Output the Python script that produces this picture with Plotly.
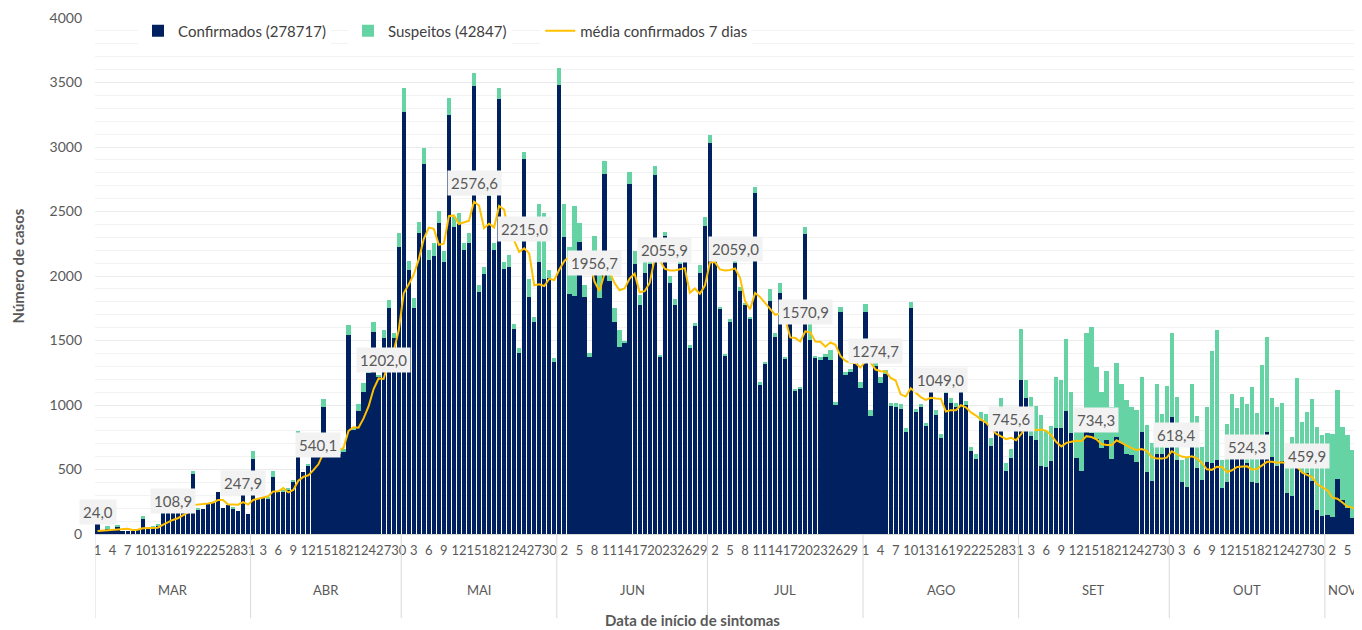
import plotly.graph_objects as go

# months shown on the category axis and how many days each one has in the series
meses = ["MAR", "ABR", "MAI", "JUN", "JUL", "AGO", "SET", "OUT", "NOV"]
dias_mes = [31, 30, 31, 30, 31, 31, 30, 31, 7]

confirmados = [
    # mar
    88, 26, 41, 31, 52, 26, 20, 26, 36, 116, 36, 49, 62, 170, 180, 175, 185, 190, 200, 467,
    190, 190, 232, 238, 326, 199, 222, 194, 178, 320, 155,
    # abr
    579, 269, 277, 269, 444, 328, 328, 341, 405, 775, 480, 527, 612, 612, 982, 599, 605, 620,
    638, 1540, 811, 956, 1103, 1250, 1568, 1214, 1517, 1749, 1517, 2227,
    # mai
    3274, 2046, 1754, 2335, 2868, 2124, 2157, 2408, 2106, 3248, 2377, 2403, 2201, 2253, 3473,
    1873, 2015, 2620, 2201, 3369, 2052, 2072, 1589, 1400, 2910, 1835, 1641, 2106, 1974, 1982, 1336,
    # jun
    3481, 2300, 1860, 1847, 2261, 1840, 1375, 2180, 1827, 2791, 1961, 1641, 1452, 1478, 2713,
    2093, 1775, 2021, 2093, 2783, 1375, 2310, 1943, 1775, 2093, 2150, 1439, 1612, 2021, 2388,
    # jul
    3034, 2111, 1750, 1380, 1640, 2098, 1884, 1775, 1664, 2641, 1153, 1315, 1809, 1530, 1866,
    1357, 1640, 1116, 1129, 2326, 1504, 1367, 1349, 1375, 1349, 1000, 1723, 1233, 1253, 1341, 1129,
    # ago
    1718, 917, 1302, 1173, 1238, 995, 987, 969, 793, 1749, 948, 987, 840, 1109, 925, 747, 1095,
    1018, 982, 1111, 1000, 643, 579, 876, 858, 685, 806, 852, 491, 587, 811,
    # set
    1194, 1057, 762, 729, 527, 520, 568, 824, 824, 953, 785, 587, 491, 845, 780, 733, 664, 728,
    582, 754, 703, 620, 612, 555, 788, 483, 413, 620, 620, 664,
    # out
    904, 574, 406, 367, 677, 509, 419, 555, 548, 574, 354, 406, 600, 600, 579, 548, 406, 393,
    600, 793, 600, 530, 568, 315, 297, 535, 478, 470, 413, 186, 140,
    # nov
    147, 135, 424, 264, 199, 124, 31,
]

suspeitos = [
    # mar
    0, 0, 21, 0, 18, 0, 0, 0, 0, 26, 0, 13, 13, 15, 0, 0, 0, 0, 0, 21, 15, 0, 0, 0, 0, 0, 0, 10,
    0, 0, 0,
    # abr
    64, 0, 0, 16, 44, 0, 12, 17, 15, 26, 0, 18, 0, 0, 62, 0, 0, 45, 22, 83, 9, 53, 65, 15, 78,
    18, 65, 65, 44, 103,
    # mai
    181, 73, 77, 80, 121, 77, 96, 93, 85, 129, 83, 88, 57, 78, 98, 55, 57, 20, 52, 91, 54, 90,
    41, 39, 51, 139, 44, 450, 517, 64, 26,
    # jun
    129, 256, 362, 693, 147, 88, 31, 130, 223, 103, 72, 108, 129, 22, 96, 101, 78, 98, 31, 70,
    13, 34, 60, 47, 31, 140, 26, 26, 65, 72,
    # jul
    59, 39, 12, 15, 25, 31, 34, 18, 21, 46, 23, 21, 90, 25, 83, 10, 20, 11, 13, 57, 129, 13, 26,
    18, 77, 20, 34, 20, 28, 0, 52,
    # ago
    65, 44, 34, 41, 33, 23, 31, 39, 26, 47, 21, 21, 18, 11, 39, 28, 21, 33, 31, 0, 31, 34, 39,
    66, 70, 62, 39, 200, 57, 72, 49,
    # set
    393, 137, 297, 263, 396, 280, 269, 390, 370, 556, 318, 283, 310, 711, 822, 564, 439, 538,
    405, 574, 459, 419, 375, 406, 426, 362, 290, 542, 311, 483,
    # out
    652, 490, 168, 233, 485, 406, 258, 432, 873, 1007, 220, 447, 485, 374, 485, 460, 733, 542,
    710, 737, 457, 452, 450, 336, 452, 671, 392, 478, 633, 641, 627,
    # nov
    638, 640, 692, 568, 568, 527, 233,
]

media_7d = [
    # mar
    24.0, 27.0, 32.0, 35.0, 40.0, 40.0, 40.6, 31.7, 33.1, 43.9, 44.6, 44.1, 49.3, 70.7, 92.7,
    108.9, 122.4, 144.4, 166.0, 223.9, 226.7, 228.1, 236.3, 243.9, 263.3, 263.1, 228.1, 228.7,
    227.0, 247.9, 227.7,
    # abr
    263.9, 273.9, 281.7, 292.4, 330.4, 331.6, 356.3, 322.3, 341.7, 412.9, 443.0, 454.9, 495.4,
    540.1, 627.6, 655.3, 631.0, 651.0, 666.9, 799.4, 827.9, 824.1, 896.1, 988.3, 1123.7, 1206.0,
    1202.0, 1336.7, 1416.9, 1577.4,
    # mai
    1866.6, 1934.9, 2012.0, 2128.9, 2288.7, 2375.4, 2365.4, 2241.7, 2250.3, 2463.7, 2469.7,
    2403.3, 2414.3, 2428.0, 2576.6, 2546.9, 2370.7, 2405.4, 2376.6, 2543.4, 2514.7, 2314.6,
    2274.0, 2186.1, 2215.0, 2175.3, 1928.4, 1936.1, 1922.1, 1978.3, 1969.1,
    # jun
    2050.7, 2117.1, 2148.4, 2111.4, 2152.4, 2132.1, 2137.7, 1956.7, 1884.3, 2017.3, 2033.6,
    1945.0, 1889.6, 1904.3, 1980.4, 2018.4, 1873.3, 1881.9, 1946.4, 2136.6, 2121.9, 2055.9,
    2042.9, 2042.9, 2053.1, 2061.3, 1869.3, 1903.1, 1861.9, 1925.4,
    # jul
    2105.3, 2107.9, 2050.7, 2042.3, 2046.3, 2059.0, 1985.3, 1805.4, 1741.6, 1868.9, 1836.4,
    1790.0, 1748.7, 1698.1, 1711.1, 1667.3, 1524.3, 1519.0, 1492.4, 1570.9, 1562.6, 1491.3,
    1490.1, 1452.3, 1485.6, 1467.1, 1381.0, 1342.3, 1326.0, 1324.9, 1289.7,
    # ago
    1342.4, 1330.6, 1274.7, 1261.9, 1259.7, 1210.3, 1190.0, 1083.0, 1065.3, 1129.1, 1097.0,
    1061.1, 1039.0, 1056.4, 1050.1, 1049.0, 950.1, 960.1, 959.4, 998.1, 982.6, 942.3, 918.3,
    887.0, 864.1, 821.7, 778.1, 757.0, 735.3, 745.6, 727.1,
    # set
    775.1, 828.3, 822.0, 804.4, 809.6, 800.0, 765.3, 712.4, 679.1, 706.4, 714.4, 723.0, 718.9,
    758.4, 752.1, 734.3, 697.9, 689.7, 689.0, 726.6, 706.3, 683.4, 666.1, 650.6, 659.1, 645.0,
    596.3, 584.4, 584.4, 591.9,
    # out
    641.7, 618.4, 600.1, 593.6, 601.7, 585.9, 550.9, 501.0, 497.3, 521.3, 519.4, 480.7, 493.7,
    519.6, 523.0, 524.3, 499.0, 504.6, 532.3, 559.9, 559.9, 552.9, 555.7, 542.7, 529.0, 519.7,
    474.7, 459.9, 439.4, 384.9, 359.9,
    # nov
    338.4, 281.3, 273.6, 244.1, 213.6, 204.7, 189.1,
]

# days where the chart shows a value label on the average line
rotulos = [("MAR", 1), ("MAR", 16), ("MAR", 30), ("ABR", 14), ("ABR", 27), ("MAI", 15),
           ("MAI", 25), ("JUN", 8), ("JUN", 22), ("JUL", 6), ("JUL", 20), ("AGO", 3),
           ("AGO", 16), ("AGO", 30), ("SET", 16), ("OUT", 2), ("OUT", 16), ("OUT", 28)]

nomes_legenda = ["Confirmados (278717)", "Suspeitos (42847)", "média confirmados 7 dias"]

NAVY = "#002060"
VERDE = "#66D3A5"
AMARELO = "#FFC000"
CINZA = "#595959"
FONTE = "Lato, 'Liberation Sans', sans-serif"

# category positions
x = list(range(len(confirmados)))
dias = [d for n in dias_mes for d in range(1, n + 1)]
inicio = [sum(dias_mes[:k]) for k in range(len(dias_mes))]
inicio_mes = dict(zip(meses, inicio))

fig = go.Figure()

fig.add_trace(go.Bar(x=x, y=confirmados, name=nomes_legenda[0], legend="legend",
                     marker=dict(color=NAVY, line=dict(width=0))))
fig.add_trace(go.Bar(x=x, y=suspeitos, name=nomes_legenda[1], legend="legend2",
                     marker=dict(color=VERDE, line=dict(width=0))))
fig.add_trace(go.Scatter(x=x, y=media_7d, mode="lines", name=nomes_legenda[2], legend="legend3",
                         line=dict(color=AMARELO, width=2)))

anots = []
for mes, dia in rotulos:
    i = inicio_mes[mes] + dia - 1
    anots.append(dict(x=i, y=media_7d[i], xref="x", yref="y",
                      text=f"{media_7d[i]:.1f}".replace(".", ","),
                      showarrow=False, yanchor="bottom", yshift=6,
                      bgcolor="#F2F2F2", borderpad=3,
                      font=dict(size=15, color=CINZA, family=FONTE)))

# month names under the day labels
for k, mes in enumerate(meses):
    meio = inicio[k] + (dias_mes[k] - 1) / 2
    anots.append(dict(x=meio, y=-0.108, xref="x", yref="paper", text=mes, showarrow=False,
                      yanchor="middle", font=dict(size=13, color=CINZA, family=FONTE)))

anots.append(dict(x=0.4727, y=-0.166, xref="paper", yref="paper", text="<b>Data de início de sintomas</b>",
                  showarrow=False, yanchor="middle", font=dict(size=15, color=CINZA, family=FONTE)))
anots.append(dict(x=-0.061, y=0.52, xref="paper", yref="paper", text="<b>Número de casos</b>",
                  showarrow=False, textangle=-90, xanchor="center", yanchor="middle",
                  font=dict(size=15, color=CINZA, family=FONTE)))

# month separators below the axis
shapes = []
bordas = inicio + [len(x)]
for b in bordas:
    shapes.append(dict(type="line", xref="x", yref="paper", x0=b - 0.5, x1=b - 0.5, y0=0, y1=-0.163,
                       line=dict(color="#D9D9D9", width=1)))


def estilo_legenda(pos_x):
    return dict(orientation="h", x=pos_x, y=0.975, xanchor="left", yanchor="middle",
                bgcolor="white", font=dict(size=15, color="#404040", family=FONTE))


# the page body has an 8px margin, so the figure is 16px smaller and margins are shifted
fig.update_layout(
    width=1354, height=622,
    margin=dict(l=87, r=2, t=10, b=96),
    plot_bgcolor="white", paper_bgcolor="white",
    barmode="stack", bargap=0.15,
    font=dict(family=FONTE, color=CINZA, size=14),
    legend=estilo_legenda(0.034),
    legend2=estilo_legenda(0.200),
    legend3=estilo_legenda(0.352),
    annotations=anots,
    shapes=shapes,
    showlegend=True,
)

fig.update_xaxes(range=[-0.5, len(x) - 0.5], tickmode="array", tickvals=x[::3],
                 ticktext=[str(dias[i]) for i in x[::3]], tickangle=0, showgrid=False,
                 showline=True, linecolor="#D9D9D9", ticks="", ticklabelstandoff=4,
                 tickfont=dict(size=13, color=CINZA, family=FONTE))
fig.update_yaxes(range=[0, 4000], dtick=500, tickformat="d", showgrid=True, gridcolor="#EBEBEB",
                 minor=dict(dtick=100, showgrid=True, gridcolor="#F2F2F2"),
                 zeroline=False, showline=False, ticks="", ticklabelstandoff=12,
                 tickfont=dict(size=14, color=CINZA, family=FONTE))

fig.write_html("out.html")
